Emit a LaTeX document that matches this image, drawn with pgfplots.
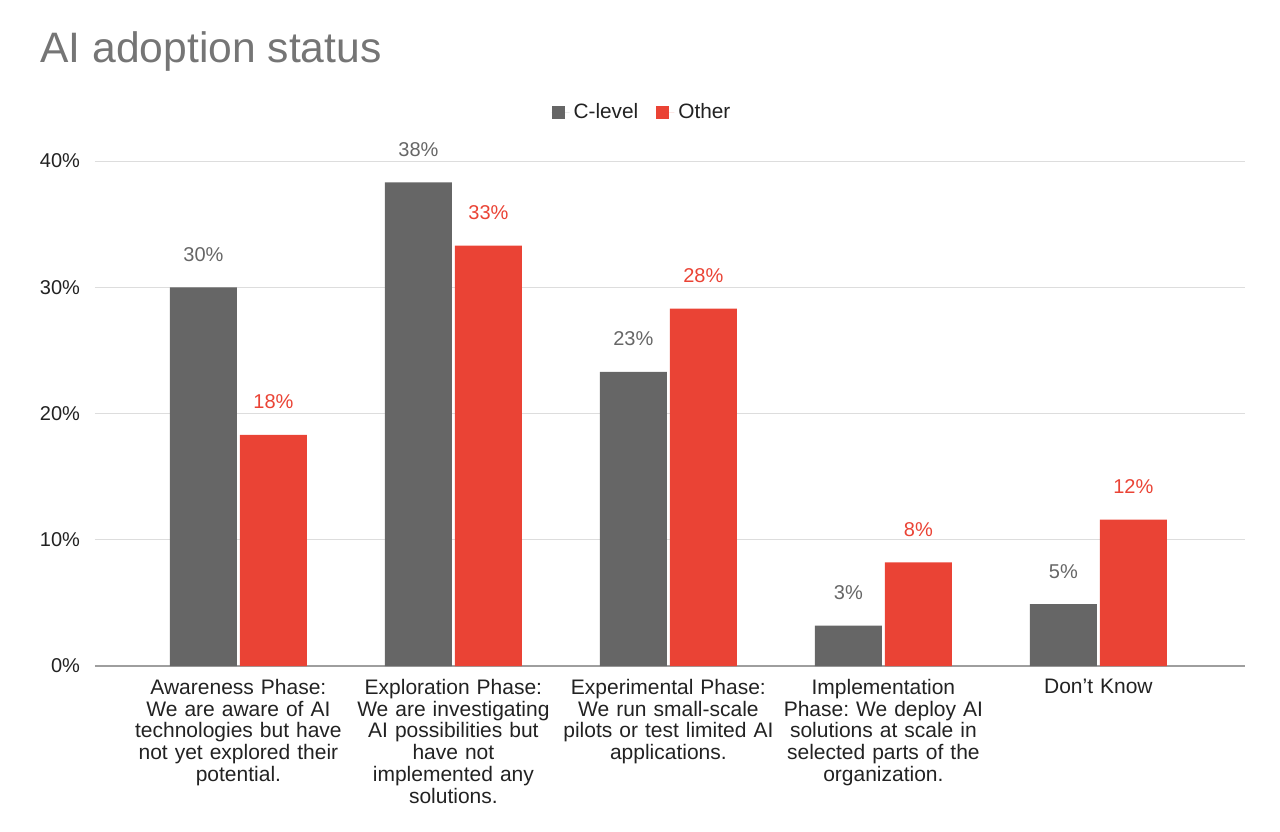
\documentclass[border=0pt]{standalone}
\usepackage{pgfplots}
\pgfplotsset{compat=1.18}
\usepackage{fontspec}
\setmainfont{Liberation Sans}
\frenchspacing

\definecolor{clevel}{HTML}{666666}
\definecolor{other}{HTML}{EA4335}
\definecolor{titlegray}{HTML}{757575}
\definecolor{gridgray}{HTML}{DDDDDD}
\definecolor{basegray}{HTML}{9E9E9E}
\definecolor{txt}{HTML}{222222}

\begin{document}
\begin{tikzpicture}
  \useasboundingbox (-47.5pt,-82.5pt) rectangle (592.5pt,333pt);
  \node[anchor=base west, font=\fontsize{21.3}{24}\selectfont, text=titlegray, inner sep=0pt]
    at (-27.5pt,301.5pt) {AI adoption status};
  \begin{axis}[
      scale only axis,
      width=575pt, height=252.5pt,
      ybar=1.5pt, bar width=33.5pt,
      xmin=-0.667, xmax=4.682,
      ymin=0, ymax=40,
      xtick={0,1,2,3,4},
      xticklabels={
        {Awareness Phase:\\We are aware of AI\\technologies but have\\not yet explored their\\potential.},
        {Exploration Phase:\\We are investigating\\AI possibilities but\\have not\\implemented any\\solutions.},
        {Experimental Phase:\\We run small-scale\\pilots or test limited AI\\applications.},
        {Implementation\\Phase: We deploy AI\\solutions at scale in\\selected parts of the\\organization.},
        {Don’t Know}},
      xticklabel style={text width=110pt, align=center, yshift=-3pt,
        font=\fontsize{10.5}{10.9}\selectfont, text=txt},
      ytick={0,10,20,30,40},
      yticklabel={\pgfmathprintnumber{\tick}\%},
      yticklabel style={font=\fontsize{10}{12}\selectfont, text=txt, xshift=-4pt},
      /pgf/number format/assume math mode=true,
      major tick length=0pt,
      axis line style={draw=none},
      ymajorgrids, grid style={gridgray, line width=0.5pt},
      extra y ticks={0}, extra y tick labels={},
      extra y tick style={grid style={basegray, line width=0.8pt}},
      nodes near coords={\pgfmathprintnumber[fixed,precision=0]{\pgfplotspointmeta}\%},
      nodes near coords style={anchor=base, yshift=13pt, font=\fontsize{10}{12}\selectfont},
      legend columns=-1,
      legend style={at={(0.4765,1.097)}, anchor=center, draw=none,
        font=\fontsize{10.4}{12}\selectfont, text=txt,
        /tikz/every even column/.append style={column sep=7pt}},
      legend image code/.code={\fill[#1] (0pt,-3.25pt) rectangle (6.5pt,3.25pt);
        \path (0pt,0pt) -- (9pt,0pt);},
    ]
    \addplot[fill=clevel, draw=none, every node near coord/.append style={text=clevel}]
      coordinates {(0,30.0) (1,38.3) (2,23.3) (3,3.2) (4,4.9)};
    \addplot[fill=other, draw=none, every node near coord/.append style={text=other}]
      coordinates {(0,18.3) (1,33.3) (2,28.3) (3,8.2) (4,11.6)};
    \legend{C-level, Other}
  \end{axis}
\end{tikzpicture}
\end{document}
